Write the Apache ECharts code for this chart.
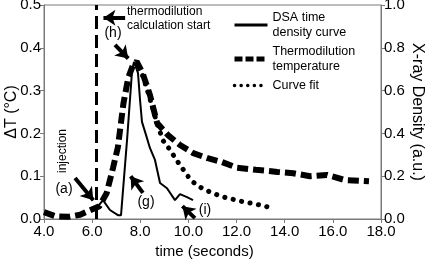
<!DOCTYPE html>
<html>
<head>
<meta charset="utf-8">
<script src="https://cdn.jsdelivr.net/npm/echarts@6/dist/echarts.min.js"></script>
<style>
  html, body { margin: 0; padding: 0; background: #fff; }
  #chart { width: 425px; height: 259px; }
</style>
</head>
<body>
<div id="chart"></div>
<script>
// thermodilution temperature, delta T in degC (left axis)
var thermoTime = [4.0, 4.5, 5.0, 5.5, 5.9, 6.3, 6.6, 6.87, 7.07, 7.3, 7.5, 7.7, 7.85, 8.1, 8.4, 8.7, 9.15, 9.65, 10.2, 10.8, 11.4, 12.0, 12.8, 13.7, 14.35, 15.05, 15.75, 16.5, 17.2, 17.5];
var thermoDeltaT = [0.016, 0.006, 0.005, 0.01, 0.02, 0.03, 0.06, 0.12, 0.168, 0.27, 0.33, 0.36, 0.368, 0.34, 0.29, 0.224, 0.196, 0.173, 0.154, 0.142, 0.133, 0.12, 0.115, 0.11, 0.107, 0.1, 0.103, 0.091, 0.089, 0.088];

// DSA time density curve (right axis, a.u.)
var dsaTime = [6.12, 6.45, 6.74, 7.07, 7.2, 7.45, 7.57, 7.66, 7.74, 7.905, 7.99, 8.07, 8.24, 8.4, 8.61, 8.82, 9.11, 9.44, 9.65, 9.94, 10.19];
var dsaDensity = [0.042, 0.088, 0.042, 0.018, 0.018, 0.37, 0.556, 0.696, 0.734, 0.682, 0.556, 0.454, 0.392, 0.332, 0.276, 0.168, 0.144, 0.088, 0.116, 0.102, 0.088];

// curve fit (right axis, a.u.)
var fitTime = [8.1, 8.3, 8.5, 8.7, 8.95, 9.23, 9.5, 9.73, 9.93, 10.2, 10.56, 10.9, 11.23, 11.6, 12.0, 12.3, 12.6, 12.95, 13.3];
var fitDensity = [0.67, 0.6, 0.524, 0.444, 0.366, 0.324, 0.276, 0.24, 0.206, 0.172, 0.144, 0.126, 0.112, 0.098, 0.088, 0.08, 0.074, 0.066, 0.056];

var calcStart = 6.15;

// annotation arrows, [from, to] in (time, delta T)
var arrows = [
  [[7.37, 0.47], [6.47, 0.47]],
  [[6.95, 0.407], [7.5, 0.375]],
  [[5.29, 0.096], [6.05, 0.044]],
  [[8.11, 0.061], [7.6, 0.1]],
  [[10.27, 0.002], [9.75, 0.03]]
];

function pairs(xs, ys) {
  return xs.map(function (x, i) { return [x, ys[i]]; });
}

var font = 'Liberation Sans, Arial, Helvetica, sans-serif';
var axisGray = '#7a7a7a';

var chart = echarts.init(document.getElementById('chart'));
var option = {
  animation: false,
  textStyle: { fontFamily: font, color: '#000' },
  grid: {
    left: 44, right: 44, top: 5, bottom: 40,
    outerBoundsMode: 'none', containLabel: false,
    show: true, borderColor: axisGray, borderWidth: 1
  },
  legend: {
    orient: 'vertical',
    left: 227,
    top: 5,
    itemWidth: 33,
    itemHeight: 10,
    itemGap: 4,
    selectedMode: false,
    itemStyle: { opacity: 0 },
    textStyle: { fontFamily: font, fontSize: 12.5, lineHeight: 15, color: '#000' },
    data: [
      { name: 'DSA time\ndensity curve', icon: 'inherit', lineStyle: { width: 3, type: 'solid', color: '#000', opacity: 1 } },
      { name: 'Thermodilution\ntemperature', icon: 'inherit', lineStyle: { width: 5, type: [8, 3], color: '#000', opacity: 1 } },
      { name: 'Curve fit', icon: 'inherit', lineStyle: { width: 3.5, type: [0.1, 6.5], cap: 'round', color: '#000', opacity: 1 } }
    ]
  },
  xAxis: {
    type: 'value',
    min: 4,
    max: 18,
    interval: 2,
    name: 'time (seconds)',
    nameLocation: 'middle',
    nameGap: 25,
    nameMoveOverlap: false,
    nameTextStyle: { fontSize: 15, color: '#000', padding: [0, 16, 0, 0] },
    axisLine: { lineStyle: { color: axisGray } },
    axisTick: { lineStyle: { color: axisGray }, length: 4 },
    axisLabel: { fontSize: 15, color: '#000', margin: 5, formatter: function (v) { return v.toFixed(1); } },
    splitLine: { show: false }
  },
  yAxis: [
    {
      type: 'value',
      min: 0,
      max: 0.5,
      interval: 0.1,
      name: 'ΔT (°C)',
      nameLocation: 'middle',
      nameGap: 24,
      nameMoveOverlap: false,
      nameTextStyle: { fontSize: 16, color: '#000' },
      axisLine: { show: true, lineStyle: { color: axisGray } },
      axisTick: { show: true, lineStyle: { color: axisGray }, length: 4 },
      axisLabel: { fontSize: 15, color: '#000', margin: 3, padding: [3, 0, 0, 0], formatter: function (v) { return v.toFixed(1); } },
      splitLine: { show: false }
    },
    {
      type: 'value',
      position: 'right',
      min: 0,
      max: 1,
      interval: 0.2,
      name: 'X-ray Density (a.u.)',
      nameLocation: 'middle',
      nameRotate: -90,
      nameGap: 28,
      nameMoveOverlap: false,
      nameTextStyle: { fontSize: 16, color: '#000' },
      axisLine: { show: true, lineStyle: { color: axisGray } },
      axisTick: { show: true, lineStyle: { color: axisGray }, length: 4 },
      axisLabel: { fontSize: 15, color: '#000', margin: 3, padding: [3, 0, 0, 0], formatter: function (v) { return v.toFixed(1); } },
      splitLine: { show: false }
    }
  ],
  series: [
    {
      name: 'Thermodilution\ntemperature',
      type: 'line',
      yAxisIndex: 0,
      symbol: 'none',
      silent: true,
      lineStyle: { color: '#000', width: 6, type: [11, 5] },
      data: pairs(thermoTime, thermoDeltaT),
      markLine: {
        silent: true,
        symbol: ['none', 'arrow'],
        symbolSize: 12,
        label: { show: false },
        lineStyle: { color: '#000', width: 4, type: 'solid' },
        data: arrows.map(function (a) {
          return [{ coord: a[0] }, { coord: a[1] }];
        })
      }
    },
    {
      name: 'DSA time\ndensity curve',
      type: 'line',
      yAxisIndex: 1,
      symbol: 'none',
      silent: true,
      lineStyle: { color: '#000', width: 2 },
      data: pairs(dsaTime, dsaDensity),
      markLine: {
        silent: true,
        symbol: 'none',
        label: { show: false },
        lineStyle: { color: '#000', width: 3, type: [13, 6] },
        data: [{ xAxis: calcStart }]
      }
    },
    {
      name: 'Curve fit',
      type: 'line',
      yAxisIndex: 1,
      symbol: 'none',
      silent: true,
      lineStyle: { color: '#000', width: 5, type: [0.1, 8.5], cap: 'round' },
      data: pairs(fitTime, fitDensity)
    }
  ],
  graphic: [
    { type: 'text', left: 127, top: 5, style: { text: 'thermodilution\ncalculation start', font: '12px ' + font, lineHeight: 14, fill: '#000' } },
    { type: 'text', x: 113, y: 33, style: { text: '(h)', font: '14px ' + font, align: 'center', verticalAlign: 'middle', fill: '#000' } },
    { type: 'text', x: 63, y: 151, rotation: Math.PI / 2, style: { text: 'injection', font: '12px ' + font, align: 'center', verticalAlign: 'middle', fill: '#000' } },
    { type: 'text', x: 64, y: 189, style: { text: '(a)', font: '14px ' + font, align: 'center', verticalAlign: 'middle', fill: '#000' } },
    { type: 'text', x: 146, y: 202, style: { text: '(g)', font: '14px ' + font, align: 'center', verticalAlign: 'middle', fill: '#000' } },
    { type: 'text', x: 205, y: 210, style: { text: '(i)', font: '14px ' + font, align: 'center', verticalAlign: 'middle', fill: '#000' } }
  ]
};
chart.setOption(option);
window.addEventListener('resize', function () {
  chart.resize();
});
</script>
</body>
</html>
